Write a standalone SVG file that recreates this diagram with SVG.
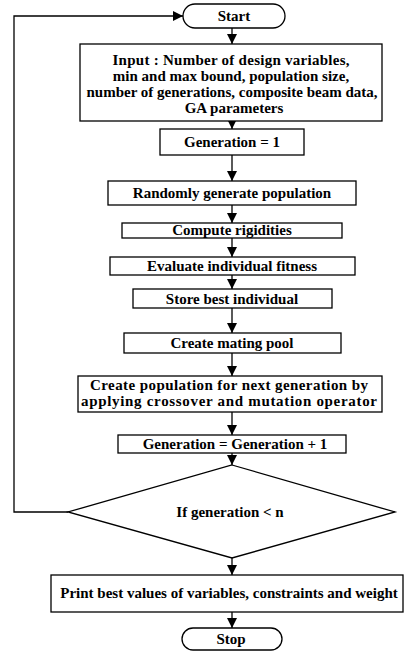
<svg xmlns="http://www.w3.org/2000/svg" width="405" height="652" viewBox="0 0 405 652">
<style>
  .box { fill: #ffffff; stroke: #000000; stroke-width: 1.3; }
  .t { font-family: "Liberation Serif", "Times New Roman", serif; font-weight: bold; font-size: 15px; fill: #000000; text-anchor: middle; }
  .c { fill: none; stroke: #000000; stroke-width: 1.3; }
</style>
<defs>
  <marker id="ah" markerUnits="userSpaceOnUse" markerWidth="12" markerHeight="10" refX="10" refY="5" orient="auto">
    <path d="M0,0 L10,5 L0,10 Z" fill="#000000"/>
  </marker>
</defs>
<rect width="405" height="652" fill="#ffffff"/>
<g id="connectors">
  <line class="c" x1="232" y1="28" x2="232" y2="44" marker-end="url(#ah)"/>
  <line class="c" x1="232" y1="121" x2="232" y2="129" marker-end="url(#ah)"/>
  <line class="c" x1="232" y1="155" x2="232" y2="181" marker-end="url(#ah)"/>
  <line class="c" x1="232" y1="205" x2="232" y2="223" marker-end="url(#ah)"/>
  <line class="c" x1="232" y1="238" x2="232" y2="257" marker-end="url(#ah)"/>
  <line class="c" x1="232" y1="275" x2="232" y2="289" marker-end="url(#ah)"/>
  <line class="c" x1="232" y1="308" x2="232" y2="333" marker-end="url(#ah)"/>
  <line class="c" x1="232" y1="353" x2="232" y2="376" marker-end="url(#ah)"/>
  <line class="c" x1="232" y1="412" x2="232" y2="435" marker-end="url(#ah)"/>
  <line class="c" x1="232" y1="453" x2="232" y2="465" marker-end="url(#ah)"/>
  <line class="c" x1="232" y1="558" x2="232" y2="575" marker-end="url(#ah)"/>
  <line class="c" x1="232" y1="612" x2="232" y2="628" marker-end="url(#ah)"/>
  <polyline class="c" points="68,512 14,512 14,16 183,16" marker-end="url(#ah)"/>
</g>
<g id="start">
  <rect class="box" x="183" y="4" width="102" height="24" rx="12" ry="12"/>
  <text class="t" x="234" y="21">Start</text>
</g>
<g id="input">
  <rect class="box" x="80" y="44" width="302" height="77"/>
  <text class="t" x="231" y="65" textLength="237" lengthAdjust="spacing">Input : Number of design variables,</text>
  <text class="t" x="231" y="81">min and max bound, population size,</text>
  <text class="t" x="232" y="97">number of generations, composite beam data,</text>
  <text class="t" x="234" y="113">GA parameters</text>
</g>
<g id="gen1">
  <rect class="box" x="160" y="129" width="144" height="26"/>
  <text class="t" x="232" y="147">Generation = 1</text>
</g>
<g id="random">
  <rect class="box" x="108" y="181" width="248" height="24"/>
  <text class="t" x="232" y="198">Randomly generate population</text>
</g>
<g id="compute">
  <rect class="box" x="122" y="223" width="220" height="15"/>
  <text class="t" x="232" y="235">Compute rigidities</text>
</g>
<g id="evaluate">
  <rect class="box" x="110" y="257" width="245" height="18"/>
  <text class="t" x="232" y="271">Evaluate individual fitness</text>
</g>
<g id="store">
  <rect class="box" x="133" y="289" width="199" height="19"/>
  <text class="t" x="232" y="304">Store best individual</text>
</g>
<g id="mating">
  <rect class="box" x="124" y="333" width="217" height="20"/>
  <text class="t" x="232" y="348">Create mating pool</text>
</g>
<g id="newpop">
  <rect class="box" x="78" y="376" width="304" height="36"/>
  <text class="t" x="229" y="390" textLength="278" lengthAdjust="spacing">Create population for next generation by</text>
  <text class="t" x="229" y="406" textLength="296" lengthAdjust="spacing">applying crossover and mutation operator</text>
</g>
<g id="genplus">
  <rect class="box" x="118" y="435" width="228" height="18"/>
  <text class="t" x="235" y="449">Generation = Generation + 1</text>
</g>
<g id="decision">
  <polygon class="box" points="232,465 395,512 232,558 68,512"/>
  <text class="t" x="230" y="517">If generation &lt; n</text>
</g>
<g id="print">
  <rect class="box" x="51" y="575" width="352" height="37"/>
  <text class="t" x="229" y="598">Print best values of variables, constraints and weight</text>
</g>
<g id="stop">
  <rect class="box" x="182" y="628" width="100" height="22" rx="11" ry="11"/>
  <text class="t" x="231" y="644">Stop</text>
</g>
</svg>
